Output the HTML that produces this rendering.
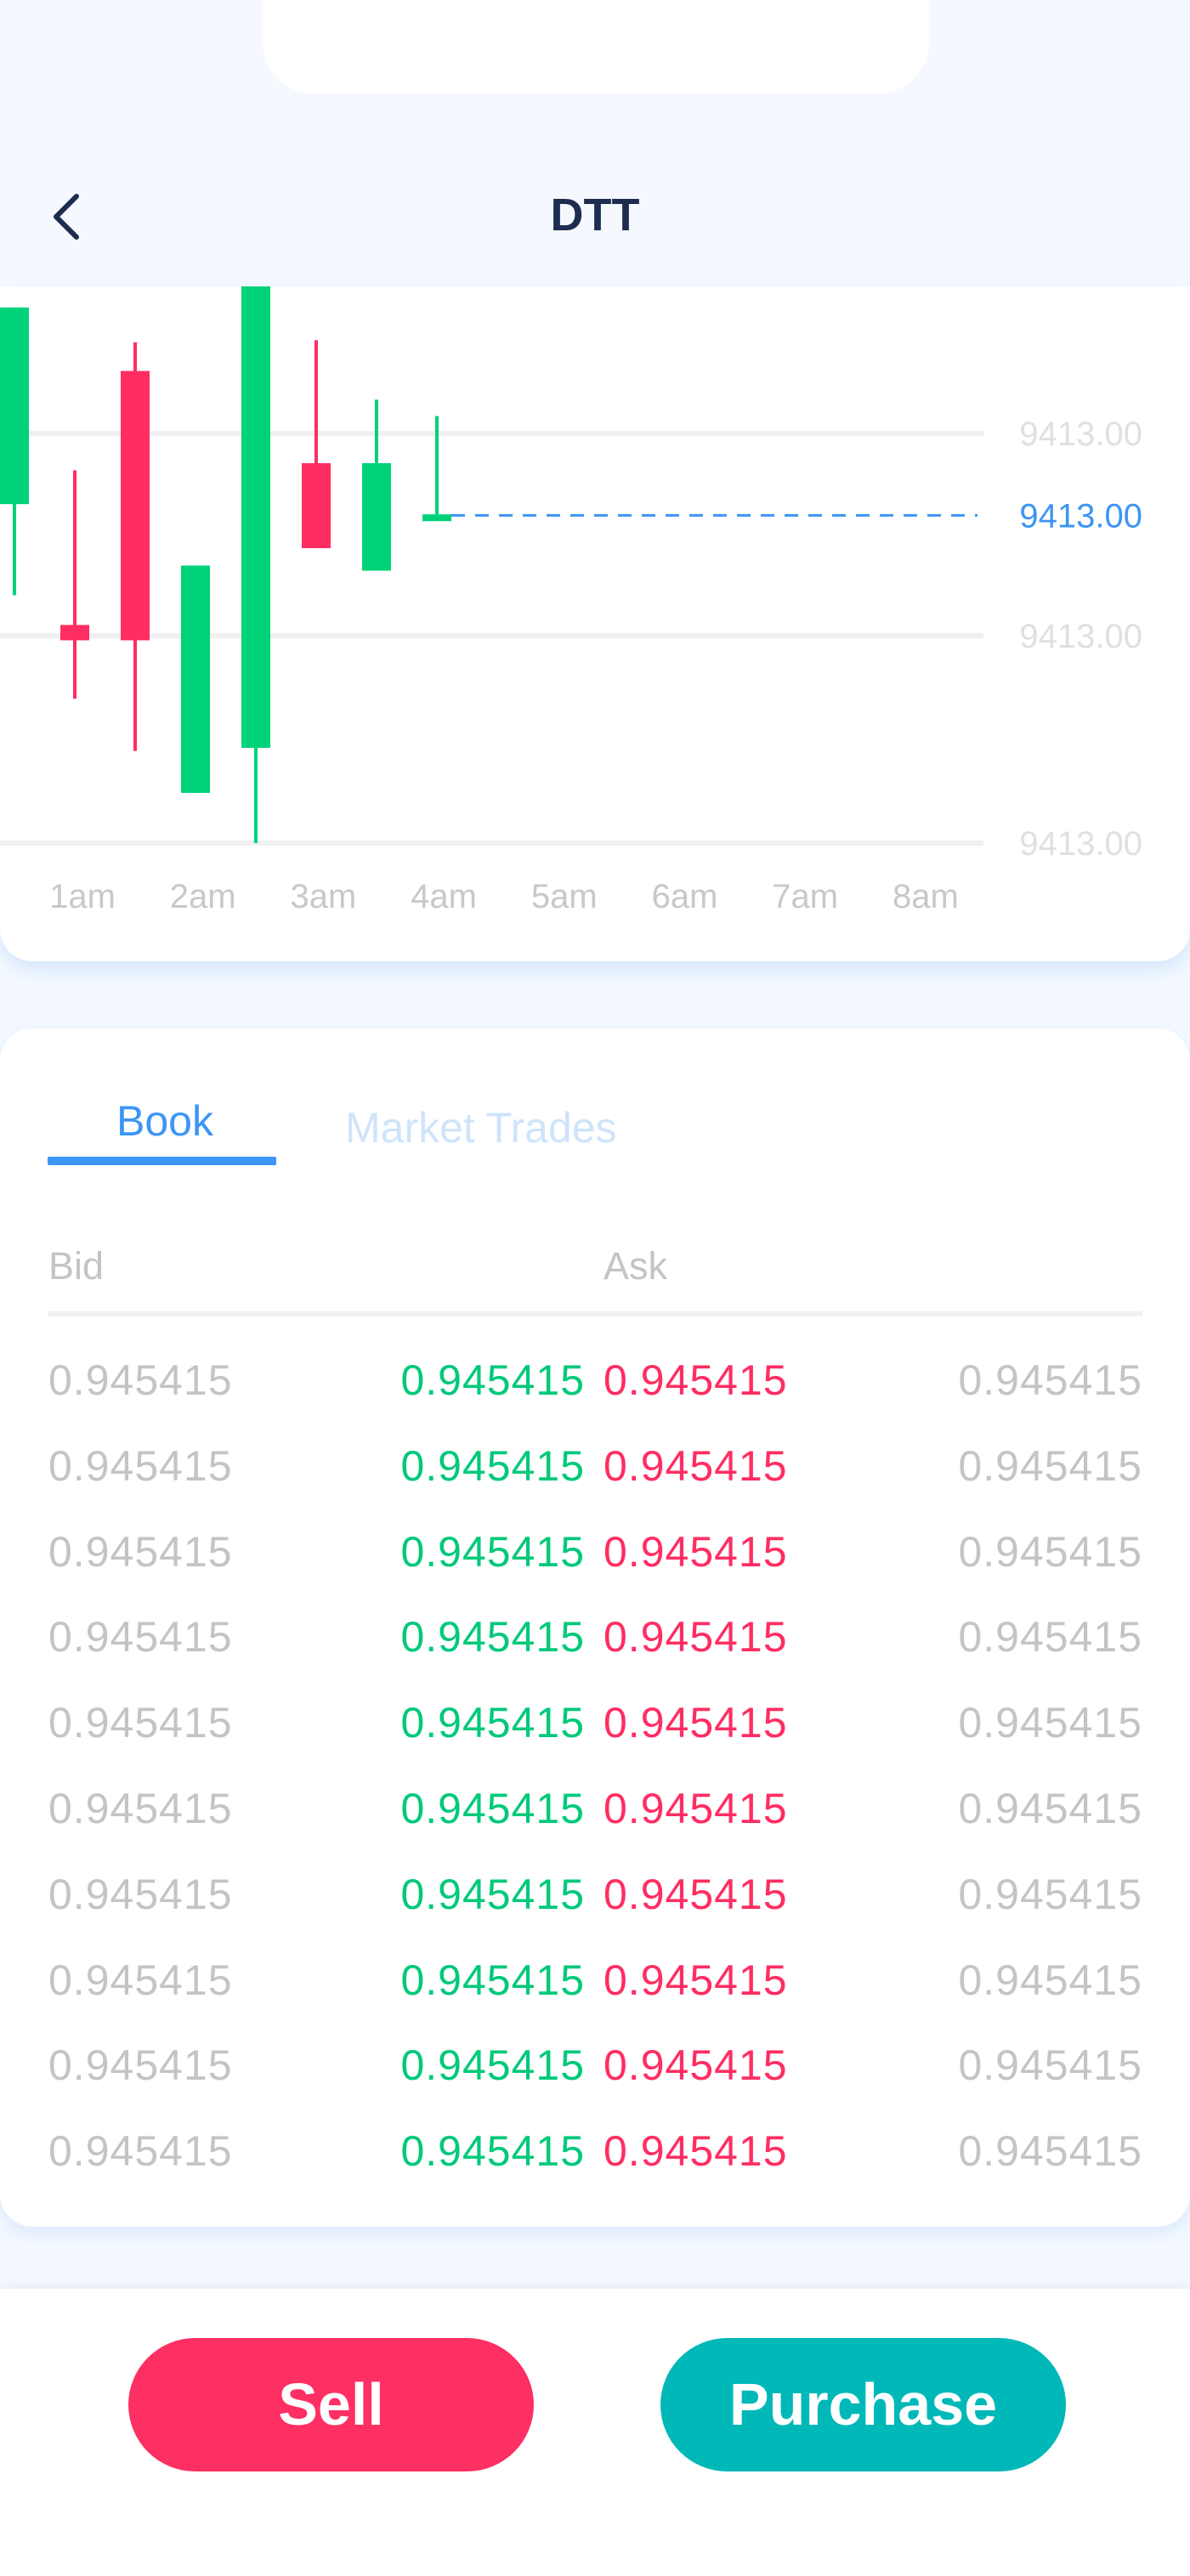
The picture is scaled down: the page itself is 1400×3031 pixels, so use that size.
<!DOCTYPE html>
<html><head><meta charset="utf-8"><style>
*{margin:0;padding:0;box-sizing:border-box}
body{width:1400px;height:3031px;background:#f5f9ff;font-family:"Liberation Sans",sans-serif;position:relative;overflow:hidden}
.abs{position:absolute}
.notch{left:309px;top:-10px;width:784px;height:120px;background:#fff;border-radius:0 0 60px 60px}
.title{left:0;width:1400px;top:222px;text-align:center;font-size:54px;font-weight:bold;color:#1c2d4f}
.card1{left:0;top:337px;width:1400px;height:794px;background:#fff;border-radius:0 0 38px 38px;box-shadow:0 10px 22px rgba(61,149,245,0.18)}
.card2{left:0;top:1210px;width:1400px;height:1410px;background:#fff;border-radius:38px;box-shadow:0 8px 20px rgba(61,149,245,0.15)}
.tab{font-size:50px;top:1290px}
.row{left:0;width:1400px;height:100px;font-size:50px;letter-spacing:1px}
.row span{position:absolute;top:0}
.bottom{left:0;top:2693px;width:1400px;height:338px;background:#fff;box-shadow:0 -4px 10px rgba(0,0,0,0.05)}
.btn{top:2751px;width:477px;height:157px;border-radius:80px;color:#fff;font-size:70px;font-weight:bold;text-align:center;line-height:157px}
</style></head><body>
<div class="abs notch"></div>
<svg class="abs" style="left:52px;top:225px" width="50" height="60"><polyline points="38,6 14,30 38,54" fill="none" stroke="#1c2d4f" stroke-width="6" stroke-linecap="round" stroke-linejoin="round"/></svg>
<div class="abs title">DTT</div>
<div class="abs card1"></div>
<svg id="chart" class="abs" style="left:0;top:337px" width="1400" height="794" viewBox="0 337 1400 794"></svg>
<div class="abs card2"></div>
<div class="abs tab" style="left:137px;color:#3d95f5">Book</div>
<div class="abs tab" style="left:406px;color:#cfe4fb;top:1298px">Market Trades</div>
<div class="abs" style="left:56px;top:1361px;width:269px;height:10px;background:#3d95f5;border-radius:2px"></div>
<div class="abs" style="left:57px;top:1464px;font-size:45px;color:#c4c4c4">Bid</div>
<div class="abs" style="left:710px;top:1464px;font-size:45px;color:#c4c4c4">Ask</div>
<div class="abs" style="left:56px;top:1543px;width:1288px;height:6px;background:#f0f0f0"></div>
<div id="rows"></div>
<div class="abs bottom"></div>
<div class="abs btn" style="left:151px;background:#fe2f63">Sell</div>
<div class="abs btn" style="left:777px;background:#00b8b8">Purchase</div>
<script>
const opens=[93.1,81.3,106.1,64.9,69.3,97.1,86.6,91.5];
const highs=[112.3,96.4,108.9,87.1,116,109.1,103.3,101.7];
const lows=[84.2,74.1,69.0,64.9,60,88.8,86.6,91.5];
const closes=[112.3,79.8,79.8,87.1,116,88.8,97.1,92.1];
const currentPrice=92.0;
const gridValues=[100,80.25,60];
const gridLabels=["9413.00","9413.00","9413.00"];
const currentLabel="9413.00";
const xLabels=["1am","2am","3am","4am","5am","6am","7am","8am"];

const NS="http://www.w3.org/2000/svg";
const svg=document.getElementById('chart');
function y(p){return 992-(p-60)*12.05;}
function cx(i){return 17+i*71;}
function lx(j){return 97+j*141.7;}
function mk(t,a){const e=document.createElementNS(NS,t);for(const k in a)e.setAttribute(k,a[k]);svg.appendChild(e);return e;}
gridValues.forEach((v,i)=>{
  const l=mk('line',{x1:0,x2:1157,y1:y(v),y2:y(v),stroke:'#f0f0f0','stroke-width':6});
  
  
  const t=mk('text',{x:1344,y:y(v)+14,'text-anchor':'end','font-size':40,fill:'#e0e0e0','font-family':'Liberation Sans'});
  t.textContent=gridLabels[i];
  
  
});
const last=opens.length-1;
const dl=mk('line',{x1:cx(last)+17,x2:1150,y1:y(currentPrice),y2:y(currentPrice),stroke:'#3d95f5','stroke-width':3,'stroke-dasharray':'16 12'});


const ct=mk('text',{x:1344,y:y(currentPrice)+14,'text-anchor':'end','font-size':40,fill:'#3d95f5','font-family':'Liberation Sans'});
ct.textContent=currentLabel;


opens.forEach((o,i)=>{
  const c=closes[i],up=c>=o,col=up?'#00d27a':'#ff2d62';
  const hi=Math.max(y(highs[i]),337),lo=y(lows[i]);
  const w=mk('rect',{x:cx(i)-2,y:hi,width:4,height:Math.max(lo-hi,0),fill:col});
  
  
  const t=Math.max(y(Math.max(o,c)),337),b=y(Math.min(o,c));
  const r=mk('rect',{x:cx(i)-17,y:t,width:34,height:Math.max(b-t,8),fill:col});
  
  
});
xLabels.forEach((s,j)=>{
  const t=mk('text',{x:lx(j),y:1068,'text-anchor':'middle','font-size':40,fill:'#c8c8c8','font-family':'Liberation Sans'});
  t.textContent=s;
  
  
});
const rows=document.getElementById('rows');
for(let i=0;i<10;i++){
  const d=document.createElement('div');
  d.className='abs row';
  d.style.top=(1595+i*100.8)+'px';
  
  
  d.innerHTML='<span style="left:57px;color:#c4c4c4">0.945415</span><span style="right:712px;color:#00c97a">0.945415</span><span style="left:710px;color:#ff2d62">0.945415</span><span style="right:56px;color:#c4c4c4">0.945415</span>';
  rows.appendChild(d);
}
</script>
</body></html>
